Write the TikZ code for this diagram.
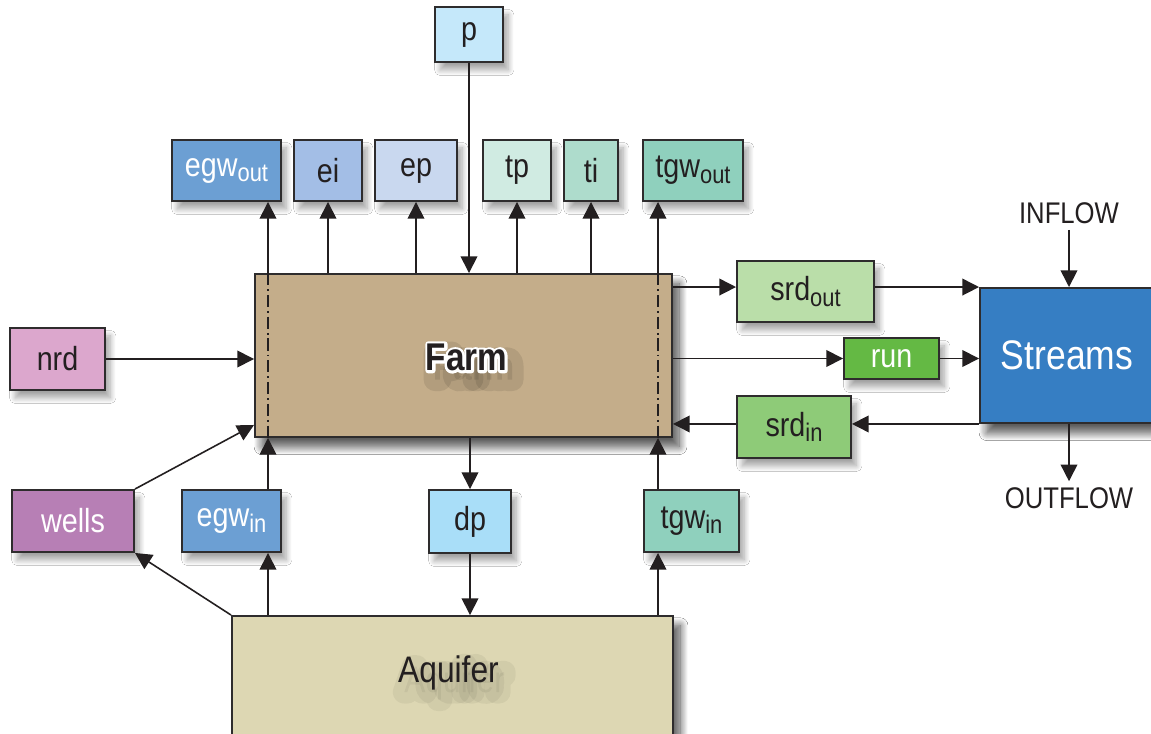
\documentclass[tikz,border=0pt]{standalone}
\usepackage{fontspec}
\setmainfont{Liberation Sans}[FakeStretch=0.86]
\usetikzlibrary{arrows.meta,shadows.blur,calc}

\definecolor{boxline}{HTML}{2E2C2D}
\definecolor{txt}{HTML}{231F20}
\definecolor{cP}{HTML}{C5E8FA}
\definecolor{cDP}{HTML}{A9DEF8}
\definecolor{cEGW}{HTML}{6C9FD3}
\definecolor{cEI}{HTML}{A3BEE6}
\definecolor{cEP}{HTML}{C9D8EF}
\definecolor{cTP}{HTML}{D0EBE2}
\definecolor{cTI}{HTML}{AEDCCC}
\definecolor{cTGW}{HTML}{8FD0BD}
\definecolor{cFarm}{HTML}{C4AD8A}
\definecolor{cNRD}{HTML}{DCA7CD}
\definecolor{cWells}{HTML}{B77FB5}
\definecolor{cSRDout}{HTML}{BADEA9}
\definecolor{cRun}{HTML}{64B944}
\definecolor{cSRDin}{HTML}{8ECB78}
\definecolor{cStreams}{HTML}{367EC3}
\definecolor{cAquifer}{HTML}{DDD7B3}

\newcommand\lowsub[1]{\raisebox{-0.32ex}{\fontsize{14.5}{14.5}\selectfont #1}}
% glyph outlines drawn with the PDF text render mode (1 = stroke, 2 = fill+stroke)
\newcommand\strokedtext[3]{\special{pdf:literal direct #1 Tr #2 w 1 j}#3\special{pdf:literal direct 0 Tr}}

\begin{document}
\begin{tikzpicture}[x=0.02cm,y=-0.02cm,
  sz/.style n args={2}{minimum width={#1*0.02cm}, minimum height={#2*0.02cm}},
  box/.style={draw=boxline, line width=1.1pt, inner sep=0pt, text=txt,
    font=\fontsize{19}{19}\selectfont,
    blur shadow={shadow xshift=3pt, shadow yshift=-4.5pt, shadow blur steps=16,
      shadow opacity=36, shadow blur radius=3.2pt}},
  bigbox/.style={box,
    blur shadow={shadow xshift=4pt, shadow yshift=-5.5pt, shadow blur steps=16,
      shadow opacity=40, shadow blur radius=4.5pt}},
  wtext/.style={text=white},
  arr/.style={line width=0.9pt, draw=txt, -{Triangle[length=9.5pt,width=9.5pt]}},
  dashdot/.style={line width=0.6pt, draw=txt,
    dash pattern=on 7pt off 2.2pt on 1pt off 2.2pt},
  flow/.style={text=txt, font=\fontsize{17}{17}\selectfont},
  bigbold/.style={font=\fontsize{22}{22}\selectfont\bfseries},
  aqfont/.style={font=\fontsize{21}{21}\selectfont},
]
\useasboundingbox (0,0) rectangle (1151,733);
\clip (0,0) rectangle (1151,733);
\fill[white] (0,0) rectangle (1151,733);

% upper row of boxes
\node[box, fill=cP,   sz={68}{55}] (p)      at (469,34.5)  {p};
\node[box, fill=cEGW, wtext, sz={109}{61}] (egwout) at (226.5,170.5) {egw\lowsub{out}};
\node[box, fill=cEI,  sz={68}{61}] (ei)     at (328,170.5)   {ei};
\node[box, fill=cEP,  sz={82}{61}] (ep)     at (416,170.5)   {ep};
\node[box, fill=cTP,  sz={68}{61}] (tp)     at (517,170.5)   {tp};
\node[box, fill=cTI,  sz={54}{61}] (ti)     at (591,170.5)   {ti};
\node[box, fill=cTGW, sz={100}{61}] (tgwout) at (693,170.5)  {tgw\lowsub{out}};

% farm
\node[bigbox, fill=cFarm, sz={417}{163}] (farm) at (463.5,355.5) {};
\coordinate (dl) at (268,0);
\coordinate (dr) at (658,0);
\draw[dashdot] (farm.north -| dl) -- (farm.south -| dl);
\draw[dashdot] (farm.north -| dr) -- (farm.south -| dr);

% "Farm" label: soft shadow, white outline, dark letters
\node[bigbold, text=black, opacity=0.09] (farmshadow) at ($(farm.center)+(10,11)$)
  {\strokedtext{2}{13}{Farm}};
\node[bigbold, text=white] (farmhalo) at ($(farm.center)+(3,2)$)
  {\strokedtext{1}{3}{Farm}};
\node[bigbold, text=txt] (farmlabel) at ($(farm.center)+(3,2)$) {Farm};

% left side
\node[box, fill=cNRD, sz={95}{62}] (nrd) at (57.5,359) {nrd};
\node[box, fill=cWells, wtext, sz={122}{62}] (wells) at (73,521) {wells};

% lower row
\node[box, fill=cEGW, wtext, sz={99}{62}] (egwin) at (231.5,521) {egw\lowsub{in}};
\node[box, fill=cDP,  sz={82}{63}] (dp)    at (470,521.5)  {dp};
\node[box, fill=cTGW, sz={95}{62}] (tgwin) at (691.5,521)  {tgw\lowsub{in}};

% aquifer
\node[bigbox, fill=cAquifer, sz={441}{119}] (aquifer) at (452.5,675.5) {};
\node[aqfont, text=black, opacity=0.05] (aqshadow) at ($(aquifer.center)+(2,7)$)
  {\strokedtext{2}{13}{Aquifer}};
\node[aqfont, text=txt] (aqlabel) at ($(aquifer.center)+(-4,-3)$) {Aquifer};

% stream side
\node[box, fill=cSRDout, sz={137}{61}] (srdout) at (805.5,291.5) {srd\lowsub{out}};
\node[box, fill=cRun, wtext, sz={95}{41}] (run) at (891.5,358.5) {run};
\node[box, fill=cSRDin, sz={114}{62}] (srdin) at (794,427) {srd\lowsub{in}};
\node[bigbox, fill=cStreams, wtext, font=\fontsize{23.5}{23.5}\selectfont,
  sz={174}{135}] (streams) at (1067,355.5) {Streams};
\node[flow] (inflow)  at (1069,213) {INFLOW};
\node[flow] (outflow) at (1069,498) {OUTFLOW};

% connectors above the farm
\draw[arr] (farm.north -| dl) -- (egwout.south -| dl);
\draw[arr] (farm.north -| ei) -- (ei.south);
\draw[arr] (farm.north -| ep) -- (ep.south);
\draw[arr] (p.south) -- (farm.north -| p);
\draw[arr] (farm.north -| tp) -- (tp.south);
\draw[arr] (farm.north -| ti) -- (ti.south);
\draw[arr] (farm.north -| dr) -- (tgwout.south -| dr);

% connectors on the left
\draw[arr] (nrd.east) -- (farm.west |- nrd.east);
\draw[arr] (wells.north east) -- ($(farm.south west)+(0,-13)$);
\draw[arr] (aquifer.north west) -- (wells.south east);

% connectors below the farm
\draw[arr] (aquifer.north -| dl) -- (egwin.south -| dl);
\draw[arr] (egwin.north -| dl) -- (farm.south -| dl);
\draw[arr] (farm.south -| dp) -- (dp.north);
\draw[arr] (dp.south) -- (aquifer.north -| dp);
\draw[arr] (aquifer.north -| dr) -- (tgwin.south -| dr);
\draw[arr] (tgwin.north -| dr) -- (farm.south -| dr);

% connectors between farm and streams
\draw[arr] (farm.east |- streams.north west) -- (srdout.west |- streams.north west);
\draw[arr] (srdout.east |- streams.north west) -- (streams.north west);
\draw[arr] (farm.east |- run) -- (run.west);
\draw[arr] (run.east) -- (streams.west |- run);
\draw[arr] (streams.south west) -- (srdin.east |- streams.south west);
\draw[arr] (srdin.west |- streams.south west) -- (farm.east |- streams.south west);
\draw[arr] (inflow.south) -- (streams.north -| inflow);
\draw[arr] (streams.south -| outflow) -- (outflow.north);
\end{tikzpicture}
\end{document}
